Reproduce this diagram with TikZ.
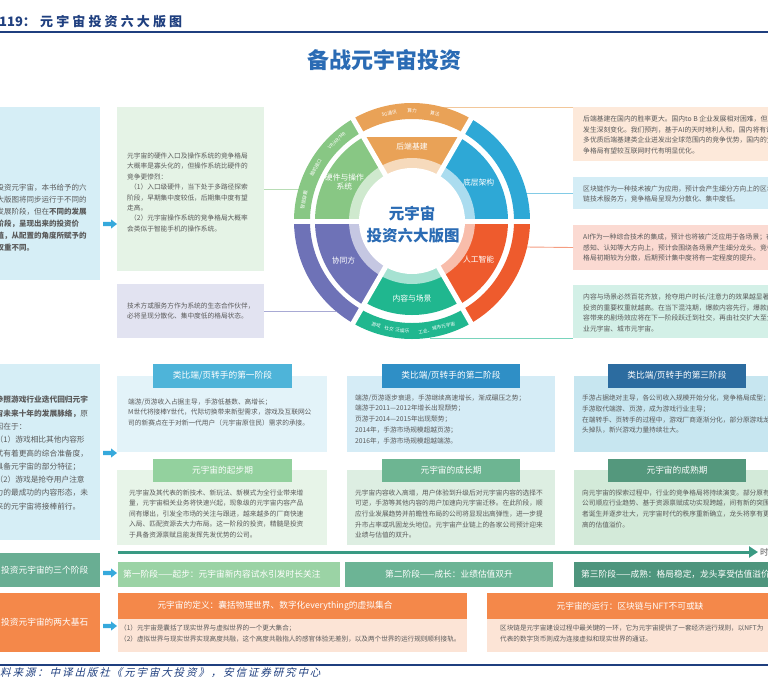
\documentclass[tikz,border=0pt]{standalone}
\usepackage{fontspec}
\setmainfont{Noto Sans CJK SC}
\newfontfamily\srcfont[FakeSlant=0.25]{Noto Sans CJK SC}
\usetikzlibrary{arrows.meta}
\definecolor{navy}{HTML}{1F3F7F}
\definecolor{titleblue}{HTML}{2A6BB4}
\definecolor{txtgray}{HTML}{5A5A5A}
\definecolor{lpblue}{HTML}{D6EEF6}
\definecolor{arrowblue}{HTML}{36A9DC}
\definecolor{gbox}{HTML}{E5F3E6}
\definecolor{lbox}{HTML}{E2E3F1}
\definecolor{peach}{HTML}{FDE9DA}
\definecolor{skyb}{HTML}{D4EDF6}
\definecolor{pinkb}{HTML}{FBDAD2}
\definecolor{mintb}{HTML}{D3F0E7}
\definecolor{cOr}{HTML}{E9A257}
\definecolor{cBl}{HTML}{2EA8D6}
\definecolor{cRd}{HTML}{EE5B2D}
\definecolor{cTl}{HTML}{20B78F}
\definecolor{cPu}{HTML}{6E72B7}
\definecolor{cGr}{HTML}{88C784}
\definecolor{hA}{HTML}{4EB4D9}\definecolor{hB}{HTML}{2F8FC6}\definecolor{hC}{HTML}{2C6CA0}
\definecolor{pA}{HTML}{E3F3F9}\definecolor{pB}{HTML}{D5ECF6}\definecolor{pC}{HTML}{C7E6F0}
\definecolor{gA}{HTML}{93D19E}\definecolor{gB}{HTML}{6DB592}\definecolor{gC}{HTML}{54987D}
\definecolor{qA}{HTML}{E7F4E8}\definecolor{qB}{HTML}{DDEEE2}\definecolor{qC}{HTML}{D3EAD9}
\definecolor{tlc}{HTML}{3A9A83}
\definecolor{sA}{HTML}{9BD3A5}\definecolor{sB}{HTML}{6CB495}\definecolor{sC}{HTML}{4E957D}
\definecolor{stg}{HTML}{69AE93}
\definecolor{orng}{HTML}{F4884A}
\definecolor{orbody}{HTML}{FCE4D6}
\newcommand\tlines[5]{%
  \foreach \tl [count=\ii from 0] in {#5} {%
    \node[anchor=west,inner sep=0,text=txtgray,font=\fontsize{#4}{#4}\selectfont] at (#1,#2+\ii*#3) {\tl};}}
\newcommand\bluearrow[2]{\fill[arrowblue] (#1,#2-2.2) -- (#1+8,#2-2.2) -- (#1+8,#2-4.6) -- (#1+14,#2) -- (#1+8,#2+4.6) -- (#1+8,#2+2.2) -- (#1,#2+2.2) -- cycle;}
\begin{document}
\begin{tikzpicture}[x=1pt,y=-1pt,
  box/.style={inner sep=0,outer sep=0,anchor=north west},
  wt/.style={text=white,font=\fontsize{8.7}{8.7}\selectfont},
  seglab/.style={text=white,font=\fontsize{7.8}{9.8}\selectfont,align=center,inner sep=0},
  bandlab/.style={text=white,font=\fontsize{4.7}{4.7}\selectfont,inner sep=0},
  conn/.style={line width=0.9}]
\useasboundingbox (0,0) rectangle (768,678);
\clip (0,0) rectangle (768,678);
% header
\node[anchor=west,inner sep=0,text=navy,font=\bfseries\fontsize{13}{13}\selectfont] (hd1) at (-1,22) {119：};
\node[anchor=west,inner sep=0,text=navy,font=\bfseries\fontsize{13}{13}\selectfont\addfontfeature{LetterSpace=24}] (hd2) at (40,22) {元宇宙投资六大版图};
\draw[navy,line width=1.4] (0,32) -- (768,32);
\node[text=titleblue,font=\bfseries\fontsize{22}{22}\selectfont] (title) at (384,60) {备战元宇宙投资};

% left panel 1
\node[box,fill=lpblue,minimum width=100,minimum height=173] (lp1) at (0,107) {};
\tlines{-3.5}{188}{11.9}{7.5}{投资元宇宙，本书给予的六,大版图将同步运行于不同的,发展阶段，但在\textbf{不同的发展},\textbf{阶段，呈现出来的投资价},\textbf{值，从配置的角度所赋予的},\textbf{权重不同。}}
\bluearrow{103}{224}

% green & lavender boxes
\node[box,fill=gbox,minimum width=147,minimum height=164] (gb) at (117,107) {};
\tlines{127}{156}{10.4}{6.7}{元宇宙的硬件入口及操作系统的竞争格局,大概率是寡头化的，但操作系统比硬件的,竞争更惨烈：,\hspace{3pt}（1）入口级硬件，当下处于多路径探索,阶段，早期集中度较低，后期集中度有望,走高。,\hspace{3pt}（2）元宇宙操作系统的竞争格局大概率,会类似于智能手机的操作系统。}
\node[box,fill=lbox,minimum width=147,minimum height=54] (lb) at (117,284) {};
\tlines{127}{306}{10.4}{6.7}{技术方或服务方作为系统的生态合作伙伴，,必将呈现分散化、集中度低的格局状态。}

% right boxes
\node[box,fill=peach,minimum width=200,minimum height=54] (rb1) at (573,107) {};
\tlines{583}{119}{10.7}{6.8}{后端基建在国内的胜率更大。国内to B 企业发展相对困难，但正,发生深刻变化。我们预判，基于AI的天时地利人和，国内将有诸,多优质后端基建类企业迸发出全球范围内的竞争优势，国内的竞,争格局有望较互联网时代有明显优化。}
\node[box,fill=skyb,minimum width=200,minimum height=32] (rb2) at (573,177) {};
\tlines{583}{189}{10.4}{6.8}{区块链作为一种技术被广为应用，预计会产生细分方向上的区块,链技术服务方，竞争格局呈现为分散化、集中度低。}
\node[box,fill=pinkb,minimum width=200,minimum height=45] (rb3) at (573,225) {};
\tlines{583}{237}{10.6}{6.8}{AI作为一种综合技术的集成，预计也将被广泛应用于各场景；在,感知、认知等大方向上，预计会围绕各场景产生细分龙头。竞争,格局初期较为分散，后期预计集中度将有一定程度的提升。}
\node[box,fill=mintb,minimum width=200,minimum height=53] (rb4) at (573,285) {};
\tlines{583}{297}{10.5}{6.8}{内容与场景必然百花齐放，抢夺用户时长/注意力的效果越显著，,投资的重要权重就越高。在当下混沌期，爆款内容先行，爆款内,容带来的剧场效应将在下一阶段跃迁到社交，再由社交扩大至企,业元宇宙、城市元宇宙。}

% connectors
\coordinate (cG) at (300,189);
\coordinate (cP) at (336,311);
\coordinate (cO) at (442,107);
\coordinate (cB) at (526,193);
\coordinate (cR) at (526,247);
\coordinate (cT) at (430,338);
\draw[conn,color=cGr!60] (gb.east) -- (cG);
\draw[conn,color=cPu!60] (lb.east) -- (cP);
\draw[conn,color=cOr!60] (rb1.north west) -- (cO);
\draw[conn,color=cBl!60] (rb2.west) -- (cB);
\draw[conn,color=cRd!60] (rb3.west) -- (cR);
\draw[conn,color=cTl!60] (rb4.south west) -- (cT);

% wheel
\begin{scope}[shift={(412,221)},yscale=-1]
  \foreach \ang/\col in {90/cOr,30/cBl,-30/cRd,-90/cTl,-150/cPu,150/cGr} {
    \fill[\col] (\ang-30:102) arc[start angle=\ang-30,end angle=\ang+30,radius=102] -- (\ang+30:118) arc[start angle=\ang+30,end angle=\ang-30,radius=118] -- cycle;
    \fill[\col!40!white] (0,0) -- (\ang-30:62) arc[start angle=\ang-30,end angle=\ang+30,radius=62] -- cycle;
  }
  % main segments
  \fill[cOr] (0,0) -- (60:97) -- (120:97) -- cycle;
  \fill[cBl] (0,0) -- (0:96) arc[start angle=0,end angle=60,radius=96] -- cycle;
  \fill[cRd] (0,0) -- (-60:96) arc[start angle=-60,end angle=0,radius=96] -- cycle;
  \fill[cTl] (0,0) -- (-120:94) arc[start angle=-120,end angle=-60,radius=94] -- cycle;
  \fill[cPu] (0,0) -- (180:97) arc[start angle=180,end angle=240,radius=97] -- cycle;
  \fill[cGr] (0,0) -- (120:97) arc[start angle=120,end angle=180,radius=97] -- cycle;
  \foreach \ang/\col in {90/cOr,30/cBl,-30/cRd,-90/cTl,-150/cPu,150/cGr}
    \fill[\col!40!white] (0,0) -- (\ang-30:63) arc[start angle=\ang-30,end angle=\ang+30,radius=63] -- cycle;
  \fill[white] (0,0) circle[radius=53];
  \foreach \ang in {0,60,...,300} \draw[white,line width=5] (0,0) -- (\ang:125);
  \node[seglab] (s1) at (90:74) {后端基建};
  \node[seglab] (s2) at (30:77) {底层架构};
  \node[seglab] (s3) at (-30:77) {人工智能};
  \node[seglab] (s4) at (-90:78) {内容与场景};
  \node[seglab] (s5) at (-150:79) {协同方};
  \node[seglab] (s6) at (150:78) {硬件与操作\\系统};
  \node[bandlab,rotate=12] at (102:110) {5G通讯};
  \node[bandlab] at (90:110) {算力};
  \node[bandlab,rotate=-12] at (78:110) {算法};
  \node[bandlab,rotate=43] at (133:110) {VR/AR/MR};
  \node[bandlab,rotate=61] at (151:110) {脑机接口};
  \node[bandlab,rotate=79] at (169:110) {智能穿戴};
  \node[bandlab,rotate=-19] at (251:110) {游戏};
  \node[bandlab,rotate=-12] at (258:110) {社交};
  \node[bandlab,rotate=-5] at (265:110) {泛娱乐};
  \node[bandlab,rotate=13] at (283:110) {工业、城市元宇宙};
\end{scope}
\node[text=titleblue,font=\bfseries\fontsize{15.5}{15.5}\selectfont] (ctr1) at (412,213) {元宇宙};
\node[text=titleblue,font=\bfseries\fontsize{15.5}{15.5}\selectfont] (ctr2) at (413,236) {投资六大版图};

% left panel 2
\node[box,fill=lpblue,minimum width=100,minimum height=176] (lp2) at (0,364) {};
\tlines{-4.5}{400}{13.3}{7.7}{\textbf{参照游戏行业迭代回归元宇},\textbf{宙未来十年的发展脉络，}原,因在于：,（1）游戏相比其他内容形,式有着更高的综合准备度，,具备元宇宙的部分特征；,（2）游戏是抢夺用户注意,力的最成功的内容形态，未,来的元宇宙将接棒前行。}
\bluearrow{103}{453}

% stage row (blue)
\node[box,fill=pA,minimum width=210,minimum height=76] (p1) at (117,376) {};
\node[box,fill=pB,minimum width=208,minimum height=76] (p2) at (347,376) {};
\node[box,fill=pC,minimum width=200,minimum height=76] (p3) at (574,376) {};
\node[box,wt,fill=hA,minimum width=139,minimum height=24] (h1) at (153,364) {类比端/页转手的第一阶段};
\node[box,wt,fill=hB,minimum width=138,minimum height=24] (h2) at (382,364) {类比端/页转手的第二阶段};
\node[box,wt,fill=hC,minimum width=138,minimum height=24] (h3) at (608,364) {类比端/页转手的第三阶段};
\tlines{128}{402}{10.5}{6.7}{端游/页游收入占据主导，手游低基数、高增长；,M世代将接棒Y世代，代际切换带来新型需求，游戏及互联网公,司的新赛点在于对新一代用户（元宇宙原住民）需求的承接。}
\tlines{355}{398}{10.7}{6.7}{端游/页游逐步衰退，手游继续高速增长，渐成碾压之势；,端游于2011—2012年增长出现颓势；,页游于2014—2015年出现颓势；,2014年，手游市场规模超越页游；,2016年，手游市场规模超越端游。}
\tlines{582}{398}{10.8}{6.7}{手游占据绝对主导，各公司收入规模开始分化，竞争格局成型；,手游取代端游、页游，成为游戏行业主导；,在端转手、页转手的过程中，游戏厂商逐渐分化，部分原游戏龙,头掉队，新兴游戏力量持续壮大。}

% stage row (green)
\node[box,fill=qA,minimum width=210,minimum height=75] (q1) at (117,470) {};
\node[box,fill=qB,minimum width=208,minimum height=75] (q2) at (347,470) {};
\node[box,fill=qC,minimum width=200,minimum height=75] (q3) at (574,470) {};
\node[box,wt,fill=gA,minimum width=139,minimum height=23] (g1) at (153,459) {元宇宙的起步期};
\node[box,wt,fill=gB,minimum width=138,minimum height=23] (g2) at (382,459) {元宇宙的成长期};
\node[box,wt,fill=gC,minimum width=138,minimum height=23] (g3) at (608,459) {元宇宙的成熟期};
\tlines{129}{493}{10.5}{6.7}{元宇宙及其代表的新技术、新玩法、新模式为全行业带来增,量，元宇宙相关业务将快速兴起，现象级的元宇宙内容产品,间有爆出，引发全市场的关注与跟进，越来越多的厂商快速,入局、匹配资源去大力布局。这一阶段的投资，精髓是投资,于具备资源禀赋且能发挥先发优势的公司。}
\tlines{355}{493}{10.5}{6.7}{元宇宙内容收入高增，用户体验到升级后对元宇宙内容的选择不,可逆，手游等其他内容的用户加速向元宇宙迁移。在此阶段，顺,应行业发展趋势并前瞻性布局的公司将显现出高弹性，进一步提,升市占率或巩固龙头地位。元宇宙产业链上的各家公司预计迎来,业绩与估值的双升。}
\tlines{582}{493}{10.5}{6.7}{向元宇宙的探索过程中，行业的竞争格局将持续演变。部分原有,公司顺应行业趋势、基于资源禀赋成功实现跨越，间有新的突围,者诞生并逐步壮大，元宇宙时代的秩序重新确立，龙头将享有更,高的估值溢价。}

% timeline
\coordinate (tl0) at (118,552);
\coordinate (tl1) at (758,552);
\draw[tlc,line width=3,-{Triangle[length=9,width=11]}] (tl0) -- (tl1);
\node[anchor=west,inner sep=0,text=txtgray,font=\fontsize{8.5}{8.5}\selectfont] (tlab) at (760,552) {时间};

% three stages
\node[box,fill=stg,minimum width=100,minimum height=34] (st0) at (0,553) {};
\node[anchor=west,inner sep=0,wt] at (1,570) {投资元宇宙的三个阶段};
\bluearrow{103}{573}
\node[box,fill=sA,minimum width=222,minimum height=25] (b1) at (118,562) {};
\node[anchor=west,inner sep=0,wt] at (123,574.5) {第一阶段——起步：元宇宙新内容试水引发时长关注};
\node[box,wt,fill=sB,minimum width=208,minimum height=25] (b2) at (345,562) {第二阶段——成长：业绩估值双升};
\node[box,fill=sC,minimum width=200,minimum height=25] (b3) at (574,562) {};
\node[anchor=west,inner sep=0,wt] at (581,574.5) {第三阶段——成熟：格局稳定，龙头享受估值溢价};

% two pillars
\node[box,fill=orng,minimum width=100,minimum height=59] (o0) at (0,593) {};
\node[anchor=west,inner sep=0,wt] at (1,622) {投资元宇宙的两大基石};
\bluearrow{103}{626}
\node[box,fill=orbody,minimum width=349,minimum height=33] (d2) at (118,619) {};
\node[box,fill=orng,minimum width=349,minimum height=26] (d1) at (118,593) {};
\node[wt] at (275,606) {元宇宙的定义：囊括物理世界、数字化everything的虚拟集合};
\tlines{120}{628}{11}{6.6}{（1）元宇宙是囊括了现实世界与虚拟世界的一个更大集合；,（2）虚拟世界与现实世界实现高度共融，这个高度共融指人的感官体验无差别，以及两个世界的运行规则顺利接轨。}
\node[box,fill=orbody,minimum width=290,minimum height=33] (e2) at (487,619) {};
\node[box,fill=orng,minimum width=290,minimum height=26] (e1) at (487,593) {};
\node[wt] at (630,606) {元宇宙的运行：区块链与NFT不可或缺};
\tlines{500}{628}{11}{6.6}{区块链是元宇宙建设过程中最关键的一环，它为元宇宙提供了一套经济运行规则，以NFT为,代表的数字货币则成为连接虚拟和现实世界的通证。}

% footer
\draw[navy,line width=1.2] (0,665) -- (768,665);
\node[anchor=west,inner sep=0,text=navy,font=\srcfont\fontsize{10.5}{10.5}\selectfont\addfontfeature{LetterSpace=18}] (src) at (-12.4,673) {资料来源：中译出版社《元宇宙大投资》，安信证券研究中心};
\end{tikzpicture}
\end{document}
